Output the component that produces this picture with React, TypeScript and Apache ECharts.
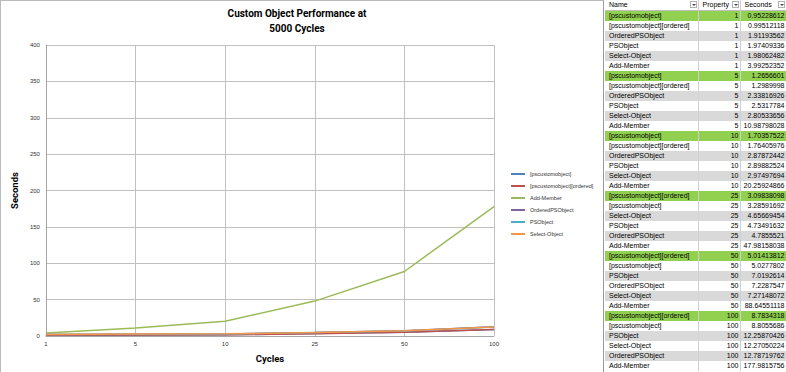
import React, { useEffect, useRef } from "react";
import * as echarts from "echarts";

const cycles = ["1", "5", "10", "25", "50", "100"];
const seriesNames = [
  "[pscustomobject]",
  "[pscustomobject][ordered]",
  "Add-Member",
  "OrderedPSObject",
  "PSObject",
  "Select-Object",
];
const pscustom = [0.95228612, 1.2656601, 1.70357522, 3.28591692, 5.0277802, 8.8055686];
const pscustomOrdered = [0.99512118, 1.2989998, 1.76405976, 3.09838098, 5.01413812, 8.7834318];
const addMember = [3.99252352, 10.98798028, 20.25924866, 47.98158038, 88.64551118, 177.9815756];
const orderedPS = [1.91193562, 2.33816926, 2.87872442, 4.7855521, 7.2287547, 12.78719762];
const psObject = [1.97409336, 2.5317784, 2.89882524, 4.73491632, 7.0192614, 12.25870426];
const selectObject = [1.98062482, 2.80533656, 2.97497694, 4.65669454, 7.27148072, 12.27050224];
const seriesValues = [pscustom, pscustomOrdered, addMember, orderedPS, psObject, selectObject];
const colors = ["#4F81BD", "#C0504D", "#9BBB59", "#8064A2", "#4BACC6", "#F79646"];
const yTicks = { min: 0, max: 400, interval: 50 };

const tableNames = [
  "[pscustomobject]", "[pscustomobject][ordered]", "OrderedPSObject", "PSObject", "Select-Object", "Add-Member",
  "[pscustomobject]", "[pscustomobject][ordered]", "OrderedPSObject", "PSObject", "Select-Object", "Add-Member",
  "[pscustomobject]", "[pscustomobject][ordered]", "OrderedPSObject", "PSObject", "Select-Object", "Add-Member",
  "[pscustomobject][ordered]", "[pscustomobject]", "Select-Object", "PSObject", "OrderedPSObject", "Add-Member",
  "[pscustomobject][ordered]", "[pscustomobject]", "PSObject", "OrderedPSObject", "Select-Object", "Add-Member",
  "[pscustomobject][ordered]", "[pscustomobject]", "PSObject", "Select-Object", "OrderedPSObject", "Add-Member",
];
const tableProps = [
  1, 1, 1, 1, 1, 1, 5, 5, 5, 5, 5, 5, 10, 10, 10, 10, 10, 10,
  25, 25, 25, 25, 25, 25, 50, 50, 50, 50, 50, 50, 100, 100, 100, 100, 100, 100,
];
const tableSeconds = [
  "0.95228612", "0.99512118", "1.91193562", "1.97409336", "1.98062482", "3.99252352",
  "1.2656601", "1.2989998", "2.33816926", "2.5317784", "2.80533656", "10.98798028",
  "1.70357522", "1.76405976", "2.87872442", "2.89882524", "2.97497694", "20.25924866",
  "3.09838098", "3.28591692", "4.65669454", "4.73491632", "4.7855521", "47.98158038",
  "5.01413812", "5.0277802", "7.0192614", "7.2287547", "7.27148072", "88.64551118",
  "8.7834318", "8.8055686", "12.25870426", "12.27050224", "12.78719762", "177.9815756",
];
const tableHeaders = ["Name", "Property", "Seconds"];

const FONT = "'Liberation Sans', Arial, sans-serif";
const TITLE_FONT = "Roboto, 'Liberation Sans', sans-serif";

function Chart() {
  const ref = useRef<HTMLDivElement>(null);
  useEffect(() => {
    if (!ref.current) return;
    const chart = echarts.init(ref.current, undefined, { renderer: "svg" });
    chart.setOption({
      animation: false,
      title: {
        text: "Custom Object Performance at\n5000 Cycles",
        left: 291,
        textAlign: "center",
        top: 0,
        textStyle: { fontSize: 10, fontWeight: "bold", color: "#000", fontFamily: TITLE_FONT, lineHeight: 15 },
      },
      legend: {
        orient: "vertical",
        left: 505,
        top: 165,
        itemWidth: 14,
        itemHeight: 2,
        itemGap: 6,
        icon: "rect",
        textStyle: { fontSize: 5.5, color: "#333", fontFamily: FONT },
        data: seriesNames,
      },
      grid: { left: 40, right: 109, top: 44, bottom: 36 },
      xAxis: {
        type: "category",
        data: cycles,
        boundaryGap: false,
        name: "Cycles",
        nameLocation: "middle",
        nameGap: 17,
        nameTextStyle: { fontSize: 9.5, fontWeight: "bold", color: "#000", fontFamily: TITLE_FONT },
        axisLine: { lineStyle: { color: "#a6a6a6" } },
        axisTick: { show: false },
        axisLabel: { fontSize: 6, color: "#333", margin: 5 },
        splitLine: { show: true, lineStyle: { color: "#c0c0c0" } },
      },
      yAxis: {
        type: "value",
        min: yTicks.min,
        max: yTicks.max,
        interval: yTicks.interval,
        name: "Seconds",
        nameLocation: "middle",
        nameGap: 22,
        nameTextStyle: { fontSize: 9.5, fontWeight: "bold", color: "#000", fontFamily: TITLE_FONT },
        axisLine: { show: true, lineStyle: { color: "#a6a6a6" } },
        axisTick: { show: false },
        axisLabel: { fontSize: 6, color: "#333", margin: 6 },
        splitLine: { show: true, lineStyle: { color: "#c0c0c0" } },
      },
      series: seriesNames.map((n, i) => ({
        name: n,
        type: "line",
        data: seriesValues[i],
        symbol: "none",
        lineStyle: { width: 1.5, color: colors[i] },
        itemStyle: { color: colors[i] },
      })),
    });
    return () => chart.dispose();
  }, []);
  return (
    <div
      ref={ref}
      style={{ position: "absolute", left: 0, top: 0, width: 604, height: 372, borderRight: "1px solid #9a9a9a", borderLeft: "1px solid #bbb", borderTop: "1px solid #bbb", boxSizing: "border-box" }}
    />
  );
}

function Arrow() {
  return (
    <span
      style={{
        position: "absolute",
        right: 1,
        top: 1,
        width: 7,
        height: 7,
        border: "1px solid #b0b0b0",
        background: "#fff",
        boxSizing: "border-box",
      }}
    >
      <span
        style={{
          position: "absolute",
          left: 1,
          top: 2,
          width: 0,
          height: 0,
          borderLeft: "2px solid transparent",
          borderRight: "2px solid transparent",
          borderTop: "2px solid #444",
        }}
      />
    </span>
  );
}

function Table() {
  const colW = [93, 42, 46];
  const cellBase: React.CSSProperties = {
    height: 10,
    lineHeight: "10px",
    fontSize: 7,
    fontFamily: FONT,
    padding: "0 1px",
    whiteSpace: "nowrap",
    borderRight: "1px solid #d0d0d0",
    color: "#000",
  };
  return (
    <table
      style={{ position: "absolute", left: 605, top: 0, width: 181, borderCollapse: "collapse", tableLayout: "fixed" }}
    >
      <colgroup>
        {colW.map((w, i) => (
          <col key={i} style={{ width: w }} />
        ))}
      </colgroup>
      <tbody>
        <tr>
          {tableHeaders.map((h) => (
            <td key={h} style={{ ...cellBase, position: "relative", background: "#fff", borderBottom: "1px solid #c0c0c0", paddingLeft: 4 }}>
              {h}
              <Arrow />
            </td>
          ))}
        </tr>
        {tableNames.map((n, r) => {
          const green = r % 6 === 0;
          const bg = green ? "#92D050" : r % 2 === 0 ? "#D9D9D9" : "#ffffff";
          const c = { ...cellBase, background: bg };
          return (
            <tr key={r}>
              <td style={{ ...c, paddingLeft: 4 }}>{n}</td>
              <td style={{ ...c, textAlign: "right" }}>{tableProps[r]}</td>
              <td style={{ ...c, textAlign: "right" }}>{tableSeconds[r]}</td>
            </tr>
          );
        })}
      </tbody>
    </table>
  );
}

export default function App() {
  useEffect(() => {
    document.body.style.margin = "0";
  }, []);
  return (
    <div style={{ position: "fixed", left: 0, top: 0, width: 786, height: 372, background: "#fff", overflow: "hidden" }}>
      <Chart />
      <Table />
    </div>
  );
}
